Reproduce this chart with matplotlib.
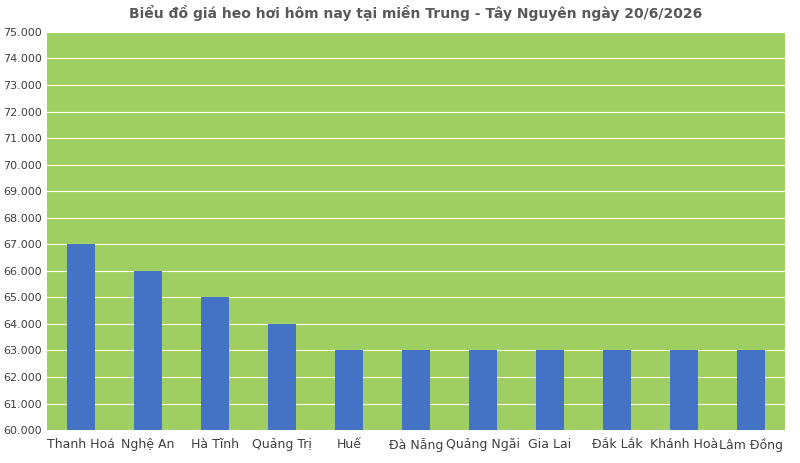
import matplotlib.pyplot as plt
from matplotlib.ticker import FuncFormatter

regions = ["Thanh Hoá", "Nghệ An", "Hà Tĩnh", "Quảng Trị", "Huế", "Đà Nẵng",
           "Quảng Ngãi", "Gia Lai", "Đắk Lắk", "Khánh Hoà", "Lâm Đồng"]
prices = [67000, 66000, 65000, 64000, 63000, 63000, 63000, 63000, 63000, 63000, 63000]

fig = plt.figure(figsize=(8, 4.63), dpi=100)
ax = fig.add_axes([0.059, 0.071, 0.922, 0.86])
ax.set_facecolor("#9FCF63")
ax.bar(range(len(regions)), prices, width=0.42, color="#4472C4", zorder=3)
ax.set_xlim(-0.5, len(regions) - 0.5)
ax.set_ylim(60000, 75000)
ax.set_yticks(range(60000, 75001, 1000))
ax.yaxis.set_major_formatter(FuncFormatter(lambda v, p: f"{int(v):,}".replace(",", ".")))
ax.set_xticks(range(len(regions)))
ax.set_xticklabels(regions, fontsize=9, color="#404040")
ax.tick_params(axis="y", labelsize=8, colors="#404040", length=0)
ax.tick_params(axis="x", length=0, pad=6)
ax.grid(axis="y", color="white", linewidth=0.8, zorder=1)
for s in ax.spines.values():
    s.set_visible(False)
ax.set_title("Biểu đồ giá heo hơi hôm nay tại miền Trung - Tây Nguyên ngày 20/6/2026",
             fontsize=10, fontweight="bold", color="#595959", pad=10)
fig.savefig("out.png")
